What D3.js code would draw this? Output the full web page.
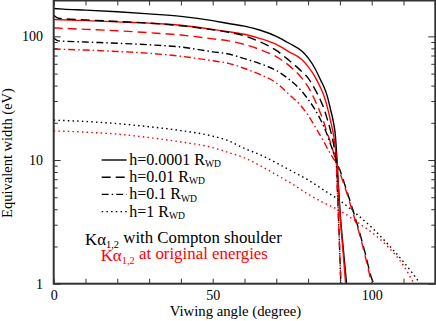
<html>
<head>
<script src="https://d3js.org/d3.v7.min.js"></script>
<style>
body { margin: 0; background: #fff; }
</style>
</head>
<body>
<script>
// [angle (deg), equivalent width (eV)]
var solidShoulder = [[0,168],[3,166],[10,163],[20,158],[30,152],[40,145],[50,134],[55,127],[60,121],[65,112],[70,100],[74,88],[78,76],[80,67],[82,56],[84,44],[85,39],[86,33],[87,26],[88,20],[88.5,16.5],[89,11],[89.5,6.5],[90,4],[91,2],[92.1,1]];
var solidOrig = [[0,137],[10,134],[20,131],[30,128],[40,123],[50,114],[55,109],[60,104],[65,96],[70,86],[74,75],[78,65],[80,57],[82,48],[84,38],[85,33],[86,27],[87,21],[88,16],[88.5,13],[89,9.5],[89.5,6],[90,3.7],[91,1.8],[91.8,1]];
var dashShoulder = [[0,148],[1.5,140],[10,136],[20,132],[30,128],[40,122],[50,113],[55,108],[60,101],[65,90],[70,77],[74,64],[78,52],[80,46],[82,38],[84,30],[85,26],[86,21.5],[87,17.5],[88,13.5],[88.8,10],[90,8.3],[92,5.8],[94,4],[96,2.7],[98,1.75],[100,1.1],[100.7,1]];
var dashOrig = [[0,117],[10,114],[20,111],[30,107],[40,102.5],[50,95.5],[55,92],[60,86],[65,78],[70,68.5],[74,58],[78,46],[80,39],[82,31],[84,23.5],[85,20],[86,16.5],[87,14],[88,11.5],[88.8,9.7],[90,7.9],[92,5.6],[94,3.8],[96,2.6],[98,1.65],[100,1.0]];
var dashdotShoulder = [[0,97],[1.5,92],[10,90],[20,88],[30,85.5],[40,82],[50,75],[55,72],[60,66],[65,60],[70,53],[74,45],[78,36],[80,31],[82,26],[84,21],[85,18.5],[86,16],[87,13.5],[88,11.5],[88.8,9.7],[89.3,5],[89.8,2.3],[90.3,1]];
var dashdotOrig = [[0,79],[10,77.5],[20,75.5],[30,73],[40,69],[50,63.5],[55,60.5],[60,55],[65,49],[70,42],[74,34],[78,27],[80,23],[82,19],[84,15.5],[85,14],[86,12.5],[87,11.3],[88,10.2],[88.8,9.5],[89.3,5],[89.8,2.3],[90.3,1]];
var dotShoulder = [[0,21],[10,20.5],[20,19.7],[30,18.6],[40,17.3],[50,15.6],[55,14.3],[60,12.4],[65,11],[70,9.5],[75,8.1],[80,6.9],[85,5.7],[90,4.7],[95,3.7],[100,2.85],[105,2.1],[110,1.5],[113,1.2],[115.2,1]];
var dotOrig = [[0,17.2],[10,16.8],[20,16.2],[30,15.2],[40,14],[50,12.6],[55,11.5],[60,10.4],[65,9],[70,7.6],[75,6.4],[80,5.3],[85,4.5],[90,3.9],[95,3.2],[100,2.6],[105,2.0],[110,1.4],[113.3,1]];

var legendLabels = ["h=0.0001 R", "h=0.01 R", "h=0.1 R", "h=1 R"];
var xTicks = [0,10,20,30,40,50,60,70,80,90,100,110,120];
var xLabels = [0,50,100];
var yMajor = [1,10,100];
var yMinor = [2,3,4,5,6,7,8,9,20,30,40,50,60,70,80,90];

var width = 436;
var height = 321;
var font = "'Liberation Serif', 'Times New Roman', serif";

var x = d3.scaleLinear().domain([0,120]).range([53.7,435.3]);
var y = d3.scaleLog().domain([1,195]).range([283.7,0.5]);

var dashes = {solid: null, dash: "9,5", dashdot: "7,3,1.5,3", dot: "1.5,3.2"};
var series = [
  {data: solidShoulder, color: "#000", style: "solid"},
  {data: solidOrig, color: "#ff0000", style: "solid"},
  {data: dashShoulder, color: "#000", style: "dash"},
  {data: dashOrig, color: "#ff0000", style: "dash"},
  {data: dashdotShoulder, color: "#000", style: "dashdot"},
  {data: dashdotOrig, color: "#ff0000", style: "dashdot"},
  {data: dotShoulder, color: "#000", style: "dot"},
  {data: dotOrig, color: "#ff0000", style: "dot"}
];

var svg = d3.select("body").append("svg")
    .attr("width", width)
    .attr("height", height);

// scale a text's font so its length matches what the reference shows
function fit(sel, target) {
  var w = sel.node().getComputedTextLength();
  var fs = parseFloat(sel.style("font-size"));
  if (w > 0) sel.style("font-size", (fs * target / w) + "px");
  return fs * target / w;
}

svg.append("clipPath").attr("id", "plotclip")
  .append("rect")
    .attr("x", x(0)).attr("y", y(195))
    .attr("width", x(120) - x(0)).attr("height", y(1) - y(195));

var line = d3.line()
    .x(function(d) { return x(d[0]); })
    .y(function(d) { return y(d[1]); })
    .curve(d3.curveMonotoneX);

svg.append("g").attr("clip-path", "url(#plotclip)")
  .selectAll("path")
  .data(series)
  .enter().append("path")
    .attr("d", function(d) { return line(d.data); })
    .attr("fill", "none")
    .attr("stroke", function(d) { return d.color; })
    .attr("stroke-width", 1.4)
    .attr("stroke-dasharray", function(d) { return dashes[d.style]; });

// axes, ticks inward on all four sides
function styleAxis(g) {
  g.select(".domain").remove();
  g.selectAll("line").attr("stroke", "#333").attr("stroke-width", 1);
  g.selectAll("text").attr("fill", "#000")
    .style("font-family", font).style("font-size", "14px");
}

svg.append("g")
    .attr("transform", "translate(0," + y(1) + ")")
    .call(d3.axisBottom(x).tickValues(xTicks).tickSize(-5).tickPadding(6.5)
      .tickFormat(function(d) { return xLabels.indexOf(d) >= 0 ? d : ""; }))
    .call(styleAxis);
svg.append("g")
    .attr("transform", "translate(0," + y(195) + ")")
    .call(d3.axisTop(x).tickValues(xTicks).tickSize(-5).tickFormat(""))
    .call(styleAxis);

svg.append("g")
    .attr("transform", "translate(" + x(0) + ",0)")
    .call(d3.axisLeft(y).tickValues(yMajor).tickSize(-7).tickPadding(10.7)
      .tickFormat(d3.format("d")))
    .call(styleAxis);
svg.append("g")
    .attr("transform", "translate(" + x(0) + ",0)")
    .call(d3.axisLeft(y).tickValues(yMinor).tickSize(-4).tickFormat(""))
    .call(styleAxis);
svg.append("g")
    .attr("transform", "translate(" + x(120) + ",0)")
    .call(d3.axisRight(y).tickValues(yMajor).tickSize(-7).tickFormat(""))
    .call(styleAxis);
svg.append("g")
    .attr("transform", "translate(" + x(120) + ",0)")
    .call(d3.axisRight(y).tickValues(yMinor).tickSize(-4).tickFormat(""))
    .call(styleAxis);

svg.append("rect")
    .attr("x", x(0)).attr("y", y(195))
    .attr("width", x(120) - x(0)).attr("height", y(1) - y(195))
    .attr("fill", "none")
    .attr("stroke", "#333")
    .attr("stroke-width", 2);

// axis titles
var xt = svg.append("text")
    .attr("x", 235.5).attr("y", 316)
    .attr("text-anchor", "middle")
    .style("font-family", font).style("font-size", "14px")
    .text("Viwing angle (degree)");
fit(xt, 131.7);
var yt = svg.append("text")
    .attr("transform", "translate(12,153) rotate(-90)")
    .attr("text-anchor", "middle")
    .style("font-family", font).style("font-size", "14px")
    .text("Equivalent width (eV)");
fit(yt, 130);

// legend
var legend = svg.append("g")
  .selectAll("g")
  .data(legendLabels)
  .enter().append("g")
    .attr("transform", function(d, i) { return "translate(0," + (160 + i * 17.2) + ")"; });
legend.append("line")
    .attr("x1", 101.7).attr("x2", 126.7)
    .attr("stroke", "#000")
    .attr("stroke-width", 1.4)
    .attr("stroke-dasharray", function(d, i) { return dashes[["solid","dash","dashdot","dot"][i]]; });
var lt = legend.append("text")
    .attr("x", 129.3).attr("y", 5)
    .style("font-family", font).style("font-size", "16px");
lt.append("tspan").attr("class", "main").text(function(d) { return d; });
lt.append("tspan").style("font-size", "0.6em").attr("dy", "0.22em").text("WD");
var first = d3.select(lt.select("tspan.main").node());
var ratio = 75.7 / first.node().getComputedTextLength();
lt.style("font-size", (16 * ratio) + "px");

var k1 = svg.append("text").attr("x", 183.5).attr("y", 245)
    .attr("text-anchor", "middle").attr("fill", "#000")
    .style("font-family", font).style("font-size", "16px");
k1.append("tspan").text("K\u03b1");
k1.append("tspan").style("font-size", "0.62em").attr("dy", "0.25em").text("1,2");
k1.append("tspan").attr("dy", "-0.25em").text(" with Compton shoulder");
fit(k1, 197);

var k2 = svg.append("text").attr("x", 184.3).attr("y", 261)
    .attr("text-anchor", "middle").attr("fill", "#ff0000")
    .style("font-family", font).style("font-size", "16px");
k2.append("tspan").text("K\u03b1");
k2.append("tspan").style("font-size", "0.62em").attr("dy", "0.25em").text("1,2");
k2.append("tspan").attr("dy", "-0.25em").text(" at original energies");
fit(k2, 167.3);
</script>
</body>
</html>
